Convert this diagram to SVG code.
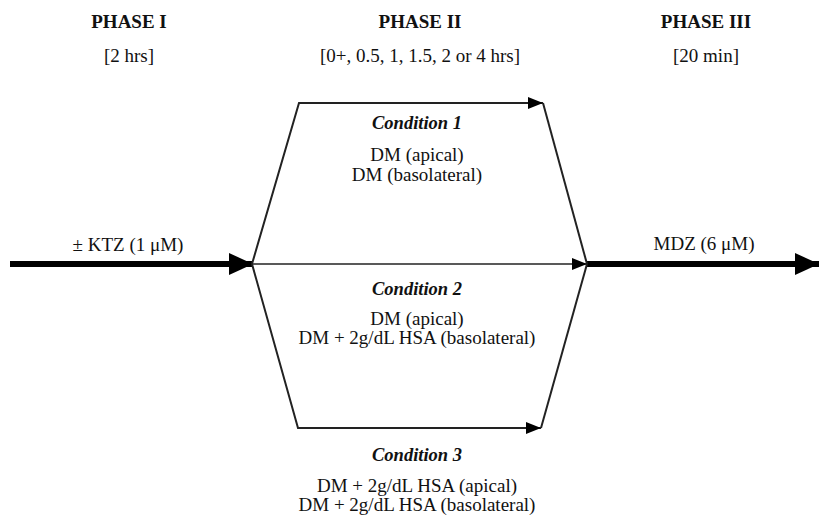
<svg xmlns="http://www.w3.org/2000/svg" width="819" height="518" viewBox="0 0 819 518">
<style>
text{font-family:'Liberation Serif','Times New Roman',serif;fill:#111;text-anchor:middle;font-size:19px}
.h{font-weight:bold}
.c{font-weight:bold;font-style:italic;font-size:18.5px}
.thin{stroke:#222;stroke-width:2;fill:none}
.mid{stroke:#222;stroke-width:1.5;fill:none}
.thick{stroke:#000;stroke-width:6;fill:none}
</style>
<defs>
<marker id="big" markerUnits="userSpaceOnUse" viewBox="0 0 24 22" refX="24" refY="11" markerWidth="24" markerHeight="22" orient="auto"><path d="M0,0 L24,11 L0,22 Z" fill="#000"/></marker>
<marker id="sm" markerUnits="userSpaceOnUse" viewBox="0 0 15 12" refX="15" refY="6" markerWidth="15" markerHeight="12" orient="auto"><path d="M0,0 L15,6 L0,12 Z" fill="#000"/></marker>
</defs>
<g id="phase1"><text class="h" x="129" y="28">PHASE I</text><text x="129" y="62">[2 hrs]</text></g>
<g id="phase2"><text class="h" x="420" y="28">PHASE II</text><text x="420" y="62">[0+, 0.5, 1, 1.5, 2 or 4 hrs]</text></g>
<g id="phase3"><text class="h" x="706" y="28">PHASE III</text><text x="706" y="62">[20 min]</text></g>
<g id="ktz"><text x="128" y="251">± KTZ (1 μM)</text></g>
<g id="mdz"><text x="704" y="250">MDZ (6 μM)</text></g>
<g id="cond1"><text class="c" x="417" y="129">Condition 1</text><text x="417" y="161">DM (apical)</text><text x="417" y="181">DM (basolateral)</text></g>
<g id="cond2"><text class="c" x="417" y="295">Condition 2</text><text x="417" y="325">DM (apical)</text><text x="417" y="344">DM + 2g/dL HSA (basolateral)</text></g>
<g id="cond3"><text class="c" x="417" y="461">Condition 3</text><text x="417" y="492">DM + 2g/dL HSA (apical)</text><text x="417" y="511">DM + 2g/dL HSA (basolateral)</text></g>
<g id="connectors">
<path class="thick" d="M10,264 L253,264" marker-end="url(#big)"/>
<path class="thick" d="M587,264 L819,264" marker-end="url(#big)"/>
<path class="thin" d="M252,264 L299,103 L543,103" marker-end="url(#sm)"/>
<path class="thin" d="M543,103 L587,264"/>
<path class="mid" d="M252,264 L587,264" marker-end="url(#sm)"/>
<path class="thin" d="M252,264 L298,428 L541,428" marker-end="url(#sm)"/>
<path class="thin" d="M541,428 L587,264"/>
</g>
</svg>
